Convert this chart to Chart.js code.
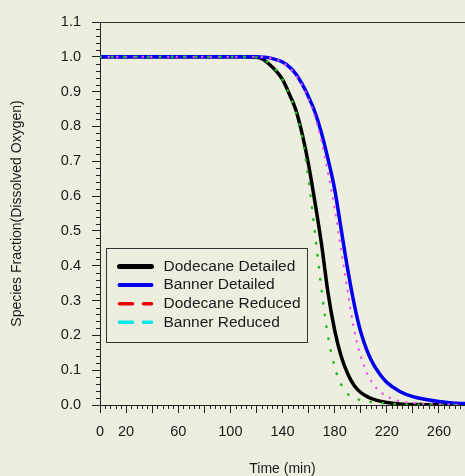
<!DOCTYPE html>
<html>
<head>
<meta charset="utf-8">
<script src="https://cdn.jsdelivr.net/npm/chart.js@4.4.0/dist/chart.umd.min.js"></script>
<style>
  html, body { margin: 0; padding: 0; background: #eeeee0; }
</style>
</head>
<body>
<canvas id="chart" width="465" height="476"></canvas>
<script>
// time (min)
const times = [0, 20, 40, 60, 80, 100, 110, 120, 125, 130, 135, 140, 145, 150, 155, 160, 165, 170, 175, 180, 185, 190, 195, 200, 205, 210, 215, 220, 230, 240, 250, 260, 270, 280];

const dodecaneDetailed = [1, 1, 1, 1, 1, 1, 1, 0.999, 0.993, 0.978, 0.96, 0.935, 0.895, 0.85, 0.78, 0.69, 0.58, 0.46, 0.32, 0.215, 0.14, 0.09, 0.056, 0.036, 0.024, 0.016, 0.011, 0.007, 0.003, 0.0015, 0.001, 0.0005, 0.0002, 0.0001];
const bannerDetailed = [1, 1, 1, 1, 1, 1, 1, 1, 0.999, 0.997, 0.992, 0.985, 0.972, 0.952, 0.922, 0.885, 0.84, 0.78, 0.705, 0.62, 0.505, 0.39, 0.29, 0.21, 0.155, 0.115, 0.087, 0.065, 0.039, 0.024, 0.016, 0.01, 0.006, 0.004];
// dotted curves (no legend entry)
const greenCurve = [1, 1, 1, 1, 1, 1, 1, 0.999, 0.994, 0.98, 0.962, 0.935, 0.893, 0.845, 0.77, 0.645, 0.49, 0.33, 0.195, 0.11, 0.058, 0.032, 0.02, 0.014, 0.01, 0.008, 0.006, 0.004, 0.002, 0.001, 0.0005, 0.0003, 0.0002, 0.0001];
const pinkCurve = [1, 1, 1, 1, 1, 1, 1, 1, 0.999, 0.997, 0.992, 0.984, 0.97, 0.948, 0.918, 0.878, 0.825, 0.755, 0.665, 0.565, 0.445, 0.325, 0.215, 0.14, 0.09, 0.058, 0.038, 0.025, 0.011, 0.006, 0.003, 0.002, 0.001, 0.0005];

const legendLabels = ['Dodecane Detailed', 'Banner Detailed', 'Dodecane Reduced', 'Banner Reduced'];
const xTickLabels = [0, 20, 60, 100, 140, 180, 220, 260];

const legendStyles = [
  { color: '#000000', width: 5, dash: [] },
  { color: '#0000ee', width: 4, dash: [] },
  { color: '#ee0000', width: 3.5, dash: [13, 11] },
  { color: '#00e8e8', width: 3.5, dash: [13, 11] }
];

const FONT = "'Liberation Sans', Arial, sans-serif";
const BG = '#eeeee0';

function toPoints(ys) {
  return times.map((t, i) => ({ x: t, y: ys[i] }));
}

const bgPlugin = {
  id: 'bg',
  beforeDraw(chart) {
    const ctx = chart.ctx;
    ctx.save();
    ctx.fillStyle = BG;
    ctx.fillRect(0, 0, chart.width, chart.height);
    ctx.restore();
  }
};

// minor ticks, top frame line and the inside legend
const extrasPlugin = {
  id: 'extras',
  afterDraw(chart) {
    const ctx = chart.ctx;
    const xs = chart.scales.x, ys = chart.scales.y;
    const area = chart.chartArea;
    ctx.save();
    ctx.strokeStyle = '#222';
    ctx.lineWidth = 1;
    ctx.beginPath();
    for (let v = 0; v <= 1.1001; v += 0.02) {
      if (Math.abs(v * 10 - Math.round(v * 10)) < 1e-6) continue;
      const py = Math.round(ys.getPixelForValue(v)) + 0.5;
      ctx.moveTo(area.left - 4, py);
      ctx.lineTo(area.left, py);
    }
    for (let t = 0; t <= 280; t += 4) {
      if (t % 20 === 0) continue;
      const px = Math.round(xs.getPixelForValue(t)) + 0.5;
      ctx.moveTo(px, area.bottom);
      ctx.lineTo(px, area.bottom + 4);
    }
    ctx.stroke();

    // top frame
    ctx.strokeStyle = '#333';
    ctx.beginPath();
    ctx.moveTo(area.left, Math.round(area.top) + 0.5);
    ctx.lineTo(area.right, Math.round(area.top) + 0.5);
    ctx.stroke();

    // legend box
    const bx = area.left + 6.5, by = 248.5, bw = 201, bh = 94;
    ctx.fillStyle = BG;
    ctx.fillRect(bx, by, bw, bh);
    ctx.strokeStyle = '#333';
    ctx.lineWidth = 1;
    ctx.strokeRect(bx, by, bw, bh);
    ctx.font = '15.5px ' + FONT;
    ctx.textBaseline = 'middle';
    ctx.textAlign = 'left';
    legendLabels.forEach((label, i) => {
      const st = legendStyles[i];
      const cy = by + 18 + i * 18.6;
      ctx.strokeStyle = st.color;
      ctx.lineWidth = st.width;
      ctx.lineCap = 'round';
      ctx.setLineDash(st.dash);
      ctx.beginPath();
      ctx.moveTo(bx + 13, cy);
      ctx.lineTo(bx + 45, cy);
      ctx.stroke();
      ctx.setLineDash([]);
      ctx.fillStyle = '#1a1a1a';
      ctx.fillText(label, bx + 57, cy);
    });
    ctx.restore();
  }
};

new Chart(document.getElementById('chart'), {
  type: 'line',
  data: {
    datasets: [
      {
        label: 'green',
        data: toPoints(greenCurve),
        borderColor: '#22bb22',
        borderWidth: 2.5,
        borderDash: [0.5, 11.5],
        borderCapStyle: 'round',
        pointRadius: 0,
        cubicInterpolationMode: 'monotone',
        order: 1
      },
      {
        label: 'pink',
        data: toPoints(pinkCurve),
        borderColor: '#ee55ee',
        borderWidth: 2.2,
        borderDash: [0.5, 8],
        borderCapStyle: 'round',
        pointRadius: 0,
        cubicInterpolationMode: 'monotone',
        order: 2
      },
      {
        label: legendLabels[0],
        data: toPoints(dodecaneDetailed),
        borderColor: '#000000',
        borderWidth: 3.5,
        pointRadius: 0,
        cubicInterpolationMode: 'monotone',
        order: 4
      },
      {
        label: legendLabels[1],
        data: toPoints(bannerDetailed),
        borderColor: '#0000ee',
        borderWidth: 3.5,
        pointRadius: 0,
        cubicInterpolationMode: 'monotone',
        order: 3
      }
    ]
  },
  options: {
    responsive: false,
    animation: false,
    layout: { padding: { top: 22, right: 0, bottom: 0, left: 0 } },
    plugins: {
      legend: { display: false },
      tooltip: { enabled: false }
    },
    scales: {
      x: {
        type: 'linear',
        min: 0,
        max: 280,
        afterFit: s => { s.height = 71; s.paddingRight = 0; s.paddingLeft = 0; },
        border: { color: '#222', width: 1 },
        grid: { drawOnChartArea: false, drawTicks: true, tickLength: 8, color: '#222' },
        ticks: {
          stepSize: 20,
          autoSkip: false,
          maxRotation: 0,
          padding: 10,
          color: '#1a1a1a',
          font: { family: FONT, size: 14.5 },
          callback: v => xTickLabels.includes(v) ? String(v) : ''
        },
        title: {
          display: true,
          text: 'Time (min)',
          color: '#1a1a1a',
          font: { family: FONT, size: 14, lineHeight: 1 },
          padding: 0
        }
      },
      y: {
        min: 0,
        max: 1.1,
        afterFit: s => { s.width = 100; },
        border: { color: '#222', width: 1 },
        grid: { drawOnChartArea: false, drawTicks: true, tickLength: 8, color: '#222' },
        ticks: {
          stepSize: 0.1,
          padding: 11,
          color: '#1a1a1a',
          font: { family: FONT, size: 14.5 },
          callback: v => v.toFixed(1)
        },
        title: {
          display: true,
          text: 'Species Fraction(Dissolved Oxygen)',
          color: '#1a1a1a',
          font: { family: FONT, size: 14, lineHeight: 1.2 },
          padding: { top: 9, bottom: 0 }
        }
      }
    }
  },
  plugins: [bgPlugin, extrasPlugin]
});
</script>
</body>
</html>
